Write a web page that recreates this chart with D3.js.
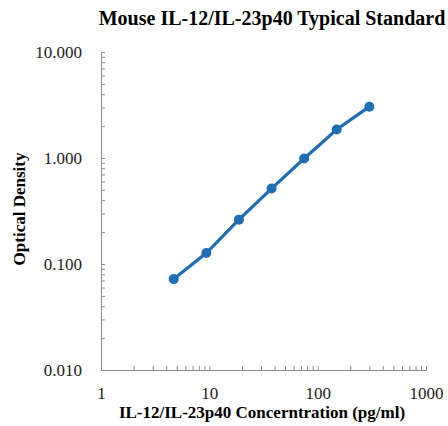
<!DOCTYPE html>
<html lang="en">
    <head>
        <meta charset="utf-8">
        <title>Typical Standard</title>
        <script src="https://d3js.org/d3.v7.min.js"></script>
        <style type="text/css">
            body { margin: 0; background: #fff; }
            text { font-family: "Liberation Serif", "Times New Roman", serif; }
        </style>
    </head>
    <body>
        <svg width="448" height="426"></svg>
        <script type="text/javascript">

            // standard curve values
            const concentration = [4.69, 9.38, 18.75, 37.5, 75, 150, 300];
            const od = [0.072, 0.127, 0.262, 0.515, 0.99, 1.86, 3.05];
            const xTickLabels = [1, 10, 100, 1000];
            const yTickLabels = [0.01, 0.1, 1, 10];

            const svg = d3.select("svg");
            const blue = "#1f6eb4";
            const axisGrey = "#8c8c8c";

            const xScale = d3.scaleLog()
                             .domain([1, 1000])
                             .range([101, 426]);

            const yScale = d3.scaleLog()
                             .domain([0.01, 10])
                             .range([370, 52]);

            //minor ticks for every 1..9 per decade, labels only on decades
            const xAxis = d3.axisBottom(xScale)
                            .tickValues(xScale.ticks())
                            .tickSize(-4)
                            .tickPadding(17)
                            .tickFormat(d => xTickLabels.includes(d) ? d3.format("d")(d) : "");

            const yAxis = d3.axisLeft(yScale)
                            .tickValues(yScale.ticks())
                            .tickSize(-4)
                            .tickPadding(19)
                            .tickFormat(d => yTickLabels.some(v => Math.abs(v - d) < 1e-9) ? d3.format(".3f")(d) : "");

            const gx = svg.append("g")
               .attr("transform", "translate(0,370)")
               .call(xAxis);

            const gy = svg.append("g")
               .attr("transform", "translate(101,0)")
               .call(yAxis);

            [gx, gy].forEach(g => {
                g.select(".domain").attr("stroke", axisGrey);
                g.selectAll(".tick line").attr("stroke", axisGrey);
                g.selectAll(".tick text")
                 .attr("fill", "#222")
                 .style("font-size", "17px")
                 .style("font-family", "'Liberation Serif', serif");
            });

            //line + markers
            const pts = concentration.map((c, i) => [c, od[i]]);

            const line = d3.line()
                           .x(d => xScale(d[0]))
                           .y(d => yScale(d[1]));

            svg.append("path")
               .datum(pts)
               .attr("d", line)
               .attr("fill", "none")
               .attr("stroke", blue)
               .attr("stroke-width", 3.2);

            svg.selectAll("circle")
               .data(pts)
               .enter()
               .append("circle")
               .attr("cx", d => xScale(d[0]))
               .attr("cy", d => yScale(d[1]))
               .attr("r", 5)
               .attr("fill", blue);

            //titles
            svg.append("text")
               .attr("x", 272)
               .attr("y", 25)
               .attr("text-anchor", "middle")
               .style("font-size", "20px")
               .style("font-weight", "bold")
               .text("Mouse IL-12/IL-23p40 Typical Standard");

            svg.append("text")
               .attr("x", 262)
               .attr("y", 418)
               .attr("text-anchor", "middle")
               .style("font-size", "17px")
               .style("font-weight", "bold")
               .text("IL-12/IL-23p40 Concerntration (pg/ml)");

            svg.append("text")
               .attr("transform", "translate(25,209) rotate(-90)")
               .attr("text-anchor", "middle")
               .style("font-size", "17px")
               .style("font-weight", "bold")
               .text("Optical Density");

        </script>
    </body>
</html>
